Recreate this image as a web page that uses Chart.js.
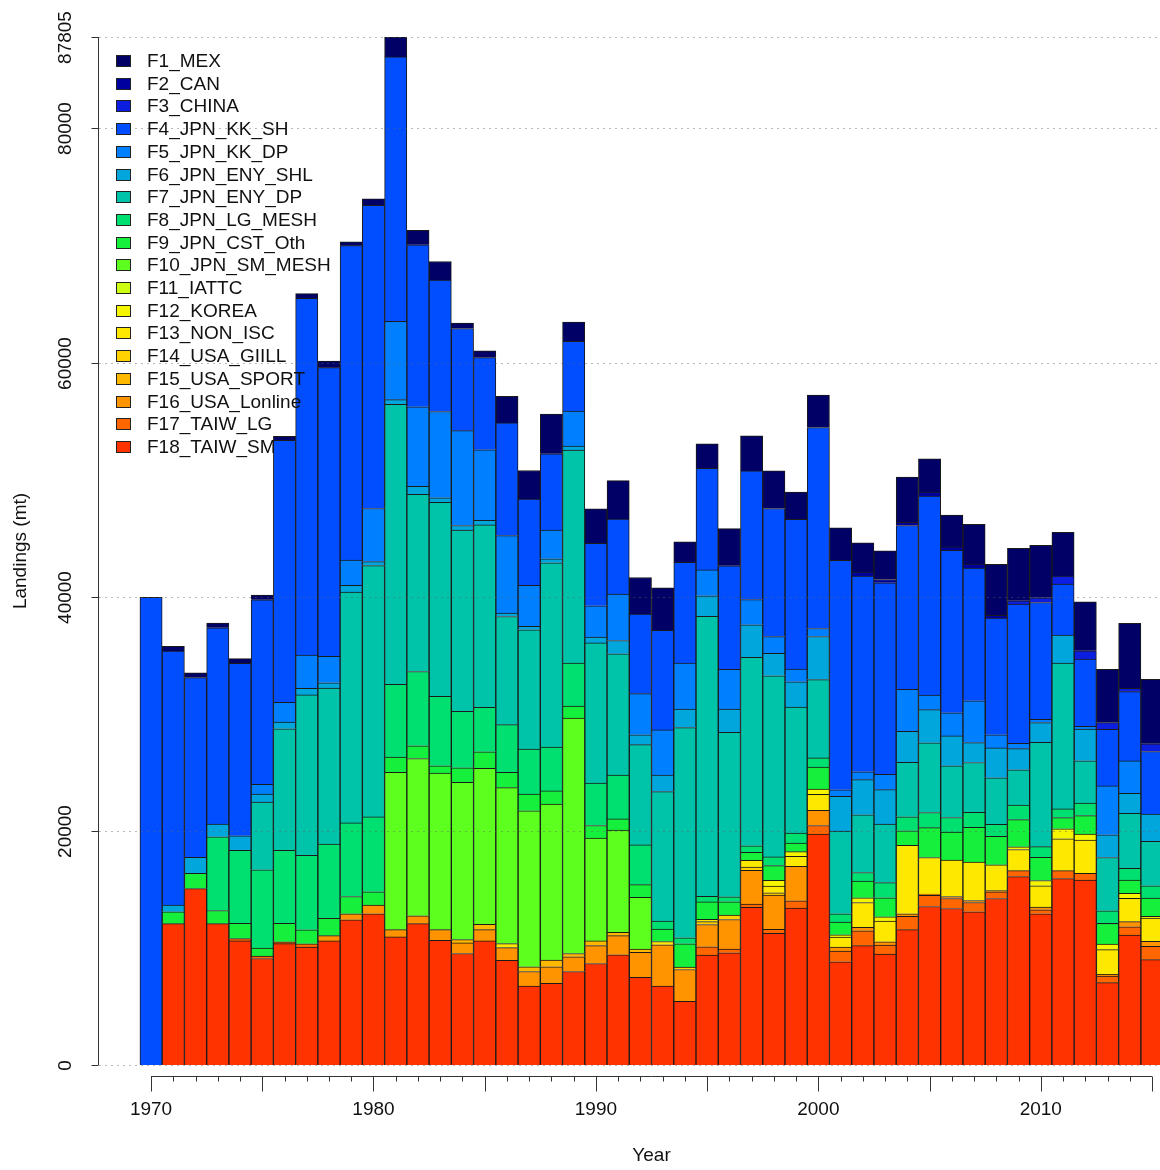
<!DOCTYPE html>
<html>
<head>
<meta charset="utf-8">
<title>Landings by fleet</title>
<script src="https://cdn.jsdelivr.net/npm/chart.js@4.4.1/dist/chart.umd.min.js"></script>
<style>
  body { margin: 0; background: #fff; }
  #wrap { position: relative; width: 1160px; height: 1170px; overflow: hidden; background: #fff; }
  #legend { position: absolute; left: 0; top: 0; font: 19px "Liberation Sans", Arial, sans-serif; color: #111; }
  .row { position: absolute; left: 116px; height: 22px; line-height: 22px; white-space: nowrap; }
  .box { position: absolute; left: 0; top: 5px; width: 13px; height: 10px; border: 1px solid #222; }
  .lab { position: absolute; left: 31px; top: 0; }
</style>
</head>
<body>
<div id="wrap">
  <canvas id="landings" width="1160" height="1170"></canvas>
  <div id="legend"></div>
</div>
<script>
// years on the x axis
var years = [1970,1971,1972,1973,1974,1975,1976,1977,1978,1979,
             1980,1981,1982,1983,1984,1985,1986,1987,1988,1989,
             1990,1991,1992,1993,1994,1995,1996,1997,1998,1999,
             2000,2001,2002,2003,2004,2005,2006,2007,2008,2009,
             2010,2011,2012,2013,2014,2015];

// landings (mt) per fleet
var F1_MEX = [0,400,400,400,400,400,340,400,570,340,
              570,1700,1250,1590,450,570,2270,2440,3400,1640,
              2950,3290,3120,3630,1760,2100,3170,3000,3230,2320,
              2780,2780,2490,2440,3850,2830,2720,3400,4360,4480,
              4480,3740,4180,4550,5550,5520];
var F2_CAN = [0,0,0,0,0,0,0,0,0,0,
              0,0,0,0,0,0,0,0,0,0,
              0,0,0,0,0,0,0,0,0,0,
              0,0,340,280,280,340,280,340,230,0,
              0,0,0,0,0,0];
var F3_CHINA = [0,0,0,0,0,0,0,0,0,0,
                0,0,0,0,0,0,0,0,0,0,
                0,0,0,0,0,0,0,0,0,0,
                0,0,0,0,0,0,0,0,0,280,
                400,680,710,570,280,650];
var F4_JPN_KK_SH = [39950,21700,15360,16770,14730,15750,22380,30480,24650,26860,
                    25890,22585,13830,11220,8730,7880,9620,7370,6520,5950,
                    5330,6400,6800,8500,8610,8670,8840,10990,10940,12800,
                    17170,19600,16710,16370,14000,17000,13880,11330,9970,11900,
                    9970,4360,5750,4840,5920,5350];
var F5_JPN_KK_DP = [0,0,0,0,0,850,1700,2830,2270,2150,
                    4530,6690,6800,7370,8100,6010,6630,3510,2440,3000,
                    2660,3970,3510,3850,3910,2210,3400,2150,1420,1080,
                    680,570,680,1300,3570,1250,1980,3570,1130,450,
                    280,0,230,4180,2760,0];
var F6_JPN_ENY_SHL = [0,570,1360,1080,1250,680,570,570,450,570,
                      340,400,680,400,400,400,280,280,340,340,
                      510,1130,850,1420,1590,1760,1980,2780,1930,2150,
                      3680,2950,3000,2950,2660,2830,2550,1700,2550,1810,
                      1700,2380,2700,1940,1710,2330];
var F7_JPN_ENY_DP = [0,0,0,0,0,5780,10370,13710,13320,19720,
                     21470,23910,15130,16550,15470,15580,9240,10200,15750,18190,
                     11960,10370,8560,11050,17960,23910,14050,16090,15470,10770,
                     6690,7080,4930,4990,4650,5950,4420,4250,3970,3000,
                     8900,12470,3610,4550,4700,3790];
var F8_JPN_LG_MESH = [0,0,0,6290,6230,6690,6230,6350,6350,6290,
                      6400,6230,6350,5950,4820,3800,4080,3850,3740,3680,
                      3630,3740,3400,700,510,480,430,570,740,850,
                      790,710,740,1300,1190,1300,1250,1300,1020,1250,
                      910,740,1080,1080,1000,1050];
var F9_JPN_CST_Oth = [0,1020,1300,1130,1300,680,1590,1190,1470,1470,
                      1130,1300,1080,620,1250,1420,1300,1420,1130,1020,
                      1080,960,1080,1050,1990,1480,1140,680,1250,740,
                      1870,1080,1420,1620,1250,2550,2380,2950,2440,2320,
                      1980,960,1570,1760,1140,1570];
var F10_JPN_SM_MESH = [0,0,0,0,0,0,0,0,0,0,
                       0,13430,13430,13370,13430,13320,13320,13320,13320,20110,
                       8780,8730,4420,0,0,0,0,0,0,0,
                       0,0,0,0,0,0,0,0,0,0,
                       0,0,0,0,0,0];
var F11_IATTC = [0,0,0,0,0,0,0,0,0,0,
                 0,0,0,0,0,0,0,0,0,0,
                 0,0,0,0,0,0,0,0,0,0,
                 0,0,0,0,0,0,0,0,0,0,
                 0,0,0,0,0,0];
var F12_KOREA = [0,0,0,0,0,0,0,0,0,0,
                 0,0,0,0,0,0,0,0,0,0,
                 0,0,0,0,0,0,0,0,500,400,
                 450,200,400,370,0,0,0,0,0,230,
                 450,850,510,480,430,140];
var F13_NON_ISC = [0,0,0,0,0,0,0,0,0,0,
                   0,0,0,0,0,0,340,0,0,0,
                   0,0,0,280,0,200,0,570,570,850,
                   1360,850,2130,1760,5840,3120,3120,3290,2210,1810,
                   1820,2720,2850,2100,1990,1990];
var F14_USA_GIILL = [0,0,0,0,0,0,0,0,0,0,
                     0,0,0,0,0,0,0,0,0,0,
                     0,0,0,0,200,250,370,280,200,0,
                     0,0,0,0,0,0,0,0,0,0,
                     0,0,0,0,0,0];
var F15_USA_SPORT = [0,0,0,0,0,0,0,0,0,0,
                     0,0,0,0,280,450,0,400,570,280,
                     400,280,280,0,0,0,0,0,0,0,
                     0,0,0,0,0,0,0,0,0,0,
                     0,0,0,0,0,0];
var F16_USA_Lonline = [0,0,0,0,0,0,0,0,450,510,
                       740,620,680,910,910,960,1080,1250,1420,1250,
                       1530,1640,2130,3530,2720,1900,2530,2890,2930,2950,
                       1300,340,280,280,230,100,170,170,100,0,
                       230,0,0,150,430,430];
var F17_TAIW_LG = [0,0,0,0,200,200,150,280,0,0,
                   0,0,0,0,0,0,0,0,0,0,
                   0,0,0,0,0,710,310,280,340,620,
                   740,910,1280,770,1130,960,850,790,570,510,
                   340,680,570,570,710,1130];
var F18_TAIW_SM = [0,12070,15070,12070,10600,9100,10370,10080,10600,12410,
                   12920,10940,12070,10650,9520,10600,8950,6740,6970,7990,
                   8670,9410,7490,6740,5440,9390,9590,13460,11240,13400,
                   19720,8820,10190,9480,11560,13540,13370,13090,14220,16090,
                   12920,15920,15800,7030,11100,9000];

var seriesNames = ['F1_MEX','F2_CAN','F3_CHINA','F4_JPN_KK_SH','F5_JPN_KK_DP','F6_JPN_ENY_SHL',
                   'F7_JPN_ENY_DP','F8_JPN_LG_MESH','F9_JPN_CST_Oth','F10_JPN_SM_MESH','F11_IATTC',
                   'F12_KOREA','F13_NON_ISC','F14_USA_GIILL','F15_USA_SPORT','F16_USA_Lonline',
                   'F17_TAIW_LG','F18_TAIW_SM'];
var seriesData = [F1_MEX,F2_CAN,F3_CHINA,F4_JPN_KK_SH,F5_JPN_KK_DP,F6_JPN_ENY_SHL,
                  F7_JPN_ENY_DP,F8_JPN_LG_MESH,F9_JPN_CST_Oth,F10_JPN_SM_MESH,F11_IATTC,
                  F12_KOREA,F13_NON_ISC,F14_USA_GIILL,F15_USA_SPORT,F16_USA_Lonline,
                  F17_TAIW_LG,F18_TAIW_SM];
var seriesColors = ['#000066','#00009E','#0C1EE0','#004EFF','#0080FF','#00A6DC',
                    '#00C4AA','#00E070','#14F03C','#5CFF1E','#CCFF10','#F5F500',
                    '#FFE800','#FFD200','#FFB800','#FF9400','#FF6600','#FF3300'];

var yTicks = [0, 20000, 40000, 60000, 80000, 87805];
var xLabelYears = [1970, 1980, 1990, 2000, 2010];

var FONT = '19px "Liberation Sans", Arial, sans-serif';

// R-style axes, drawn from the chart's own scales
var rAxes = {
  id: 'rAxes',
  afterDatasetsDraw: function(chart) {
    var ctx = chart.ctx, a = chart.chartArea;
    var xs = chart.scales.x, ys = chart.scales.y;
    ctx.save();

    // dotted grid, drawn over the bars like abline()
    ctx.strokeStyle = 'rgba(100,100,100,0.45)';
    ctx.lineWidth = 1;
    ctx.setLineDash([2, 4]);
    yTicks.forEach(function(v) {
      var py = Math.round(ys.getPixelForValue(v)) + 0.5;
      ctx.beginPath(); ctx.moveTo(a.left, py); ctx.lineTo(a.right, py); ctx.stroke();
    });
    ctx.setLineDash([]);

    ctx.strokeStyle = '#333';
    ctx.fillStyle = '#111';
    ctx.font = FONT;
    ctx.textAlign = 'center';
    ctx.textBaseline = 'middle';

    // y axis
    var ax = a.left - 0.5;
    ctx.beginPath();
    ctx.moveTo(ax, ys.getPixelForValue(yTicks[0]));
    ctx.lineTo(ax, ys.getPixelForValue(yTicks[yTicks.length - 1]));
    ctx.stroke();
    yTicks.forEach(function(v) {
      var py = Math.round(ys.getPixelForValue(v)) + 0.5;
      ctx.beginPath(); ctx.moveTo(ax - 7, py); ctx.lineTo(ax, py); ctx.stroke();
      ctx.save();
      ctx.translate(a.left - 33, py);
      ctx.rotate(-Math.PI / 2);
      ctx.fillText(String(v), 0, 0);
      ctx.restore();
    });
    ctx.save();
    ctx.translate(21, (a.top + a.bottom) / 2);
    ctx.rotate(-Math.PI / 2);
    ctx.fillText('Landings (mt)', 0, 0);
    ctx.restore();

    // x axis, detached below the bars
    var ay = a.bottom + 11.5;
    var x0 = xs.getPixelForValue(years[0]);
    var x1 = xs.getPixelForValue(years[years.length - 1]);
    ctx.beginPath(); ctx.moveTo(x0, ay); ctx.lineTo(x1, ay); ctx.stroke();
    years.forEach(function(yr) {
      var px = Math.round(xs.getPixelForValue(yr)) + 0.5;
      var len = (yr % 5 === 0) ? 15 : 5;
      ctx.beginPath(); ctx.moveTo(px, ay); ctx.lineTo(px, ay + len); ctx.stroke();
    });
    xLabelYears.forEach(function(yr) {
      ctx.fillText(String(yr), xs.getPixelForValue(yr), a.bottom + 45);
    });
    ctx.fillText('Year', (x0 + x1) / 2, a.bottom + 91);

    ctx.restore();
  }
};

var datasets = [];
for (var i = seriesNames.length - 1; i >= 0; i--) {
  datasets.push({
    label: seriesNames[i],
    data: seriesData[i].map(function(v, k) { return { x: years[k], y: v }; }),
    backgroundColor: seriesColors[i],
    borderColor: '#1a1a1a',
    borderWidth: 1,
    borderSkipped: 'start',
    categoryPercentage: 1,
    barPercentage: 1
  });
}

var ctxL = document.getElementById('landings').getContext('2d');
var landingsChart = new Chart(ctxL, {
  type: 'bar',
  data: { datasets: datasets },
  options: {
    responsive: false,
    animation: false,
    layout: { padding: { left: 99, top: 37, right: 0, bottom: 105 } },
    plugins: { legend: { display: false }, tooltip: { enabled: false } },
    scales: {
      x: {
        type: 'linear', stacked: true, display: false, offset: false,
        min: 1967.66, max: 2015.36,
        afterBuildTicks: function(s) { s.ticks = years.map(function(v) { return { value: v }; }); }
      },
      y: {
        stacked: true, display: false, min: 0, max: 87805,
        afterBuildTicks: function(s) { s.ticks = yTicks.map(function(v) { return { value: v }; }); }
      }
    }
  },
  plugins: [rAxes]
});

// legend, top-left inside the plot
var legend = document.getElementById('legend');
seriesNames.forEach(function(name, i) {
  var row = document.createElement('div');
  row.className = 'row';
  row.style.top = (61 + i * 22.7 - 11) + 'px';
  var box = document.createElement('span');
  box.className = 'box';
  box.style.background = seriesColors[i];
  var lab = document.createElement('span');
  lab.className = 'lab';
  lab.textContent = name;
  row.appendChild(box);
  row.appendChild(lab);
  legend.appendChild(row);
});
</script>
</body>
</html>
